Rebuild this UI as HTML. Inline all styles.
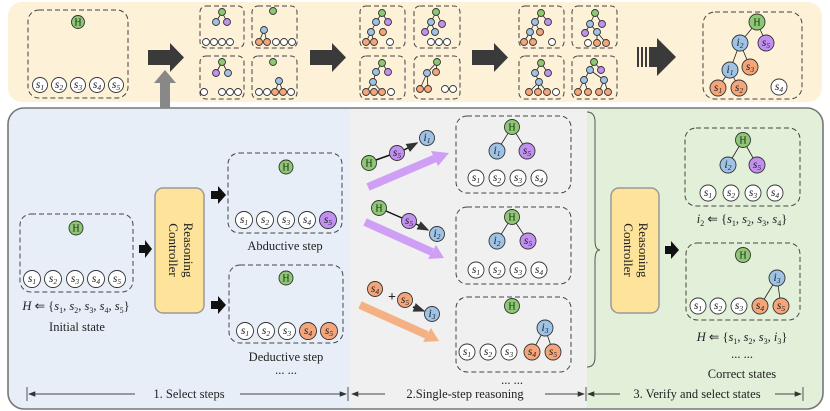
<!DOCTYPE html>
<html><head><meta charset="utf-8"><style>
html,body{margin:0;padding:0;background:#fff}
svg{display:block}
text{font-family:"Liberation Serif",serif;fill:#222}
.n{stroke:#333;stroke-width:0.9}
.g{fill:#8dc972}.b{fill:#9ec3e6}.p{fill:#c190f0}.o{fill:#f4a57a}.w{fill:#fff}
.d{fill:none;stroke:#444;stroke-width:1;stroke-dasharray:5,3}
.l{stroke:#222;stroke-width:0.8}
.t{font-size:11.5px;font-style:italic;text-anchor:middle}
.t tspan{font-size:7.5px}
.h{font-size:10px;text-anchor:middle}
.lab{font-size:12.5px;text-anchor:middle}
</style></head><body>
<svg width="830" height="411" viewBox="0 0 830 411" xmlns="http://www.w3.org/2000/svg">
<defs>
<marker id="ah" markerWidth="8" markerHeight="8" refX="7" refY="4" orient="auto"><path d="M0,1 L8,4 L0,7 Z" fill="#333"/></marker>
</defs>
<rect x="8" y="2" width="814" height="100" rx="14" fill="#fdf1d8"/>
<clipPath id="cp"><rect x="8" y="108" width="815" height="301" rx="16"/></clipPath>
<g clip-path="url(#cp)">
<rect x="8" y="108" width="342" height="301" fill="#e8eef8"/>
<rect x="350" y="108" width="237" height="301" fill="#f0f0f0"/>
<rect x="587" y="108" width="236" height="301" fill="#e2efd9"/>
</g>
<rect x="8" y="108" width="815" height="301" rx="16" fill="none" stroke="#777" stroke-width="1.6"/>

<rect class="d" x="28" y="10" width="100" height="88" rx="11"/>
<circle class="n g" cx="78" cy="22" r="6.5"/><text class="h" x="78" y="25.5" font-size="8">H</text>
<g>
<circle class="n w" cx="40" cy="85" r="7.5"/><text class="t" x="40" y="88">s<tspan dy="2">1</tspan></text>
<circle class="n w" cx="59" cy="85" r="7.5"/><text class="t" x="59" y="88">s<tspan dy="2">2</tspan></text>
<circle class="n w" cx="78" cy="85" r="7.5"/><text class="t" x="78" y="88">s<tspan dy="2">3</tspan></text>
<circle class="n w" cx="97" cy="85" r="7.5"/><text class="t" x="97" y="88">s<tspan dy="2">4</tspan></text>
<circle class="n w" cx="116" cy="85" r="7.5"/><text class="t" x="116" y="88">s<tspan dy="2">5</tspan></text>
</g>
<polygon points="148,50 170,50 170,43 184,57.5 170,72 170,65 148,65" fill="#3a3a3a"/>
<polygon points="160,108 160,83 154,83 165,70 176,83 170,83 170,108" fill="#888"/>
<polygon points="310,50 332,50 332,43 346,57.5 332,72 332,65 310,65" fill="#3a3a3a"/>
<polygon points="472,50 494,50 494,43 508,57.5 494,72 494,65 472,65" fill="#3a3a3a"/>
<rect x="637" y="47" width="2" height="20" fill="#3a3a3a"/><rect x="641" y="47" width="2" height="20" fill="#3a3a3a"/><rect x="645" y="47" width="2" height="20" fill="#3a3a3a"/>
<polygon points="649,47 657,47 657,38 676,57 657,76 657,67 649,67" fill="#3a3a3a"/>

<g>
<rect class="d" x="200" y="6" width="44" height="42" rx="6"/>
<rect class="d" x="252" y="6" width="45" height="42" rx="6"/>
<rect class="d" x="200" y="56" width="44" height="43" rx="6"/>
<rect class="d" x="252" y="56" width="45" height="43" rx="6"/>
<rect class="d" x="360" y="6" width="45" height="42" rx="6"/>
<rect class="d" x="414" y="6" width="46" height="42" rx="6"/>
<rect class="d" x="360" y="56" width="45" height="43" rx="6"/>
<rect class="d" x="414" y="56" width="46" height="43" rx="6"/>
<rect class="d" x="519" y="6" width="45" height="42" rx="6"/>
<rect class="d" x="572" y="6" width="45" height="42" rx="6"/>
<rect class="d" x="519" y="56" width="45" height="43" rx="6"/>
<rect class="d" x="572" y="56" width="45" height="43" rx="6"/>
</g>
<g class="l">
<line x1="222" y1="12" x2="216" y2="22"/><line x1="222" y1="12" x2="227" y2="22"/>
<line x1="264" y1="30" x2="259" y2="42"/><line x1="264" y1="30" x2="267" y2="42"/>
<line x1="222" y1="62" x2="216" y2="73"/><line x1="222" y1="62" x2="228" y2="73"/>
<line x1="279" y1="81" x2="275" y2="92"/><line x1="279" y1="81" x2="283" y2="92"/>
<line x1="382" y1="13" x2="376" y2="22"/><line x1="382" y1="13" x2="388" y2="22"/><line x1="376" y1="22" x2="371" y2="32"/><line x1="371" y1="32" x2="366" y2="42"/><line x1="371" y1="32" x2="374" y2="42"/>
<line x1="382" y1="63" x2="376" y2="72"/><line x1="382" y1="63" x2="388" y2="72"/><line x1="376" y1="72" x2="373" y2="82"/><line x1="373" y1="82" x2="366" y2="92"/><line x1="373" y1="82" x2="382" y2="92"/>
<line x1="436" y1="12" x2="431" y2="22"/><line x1="436" y1="12" x2="442" y2="24"/><line x1="431" y1="22" x2="425" y2="32"/><line x1="431" y1="22" x2="435" y2="32"/>
<line x1="437" y1="62" x2="427" y2="73"/><line x1="437" y1="62" x2="436" y2="72"/><line x1="427" y1="73" x2="420" y2="89"/><line x1="427" y1="73" x2="428" y2="89"/>
<line x1="541" y1="13" x2="535" y2="22"/><line x1="541" y1="13" x2="548" y2="22"/><line x1="535" y1="22" x2="530" y2="32"/><line x1="535" y1="22" x2="540" y2="32"/><line x1="530" y1="32" x2="524" y2="42"/><line x1="530" y1="32" x2="533" y2="42"/>
<line x1="541" y1="63" x2="535" y2="73"/><line x1="541" y1="63" x2="548" y2="73"/><line x1="535" y1="73" x2="539" y2="82"/><line x1="539" y1="82" x2="529" y2="92"/><line x1="539" y1="82" x2="538" y2="92"/><line x1="539" y1="82" x2="547" y2="92"/>
<line x1="595" y1="13" x2="590" y2="24"/><line x1="595" y1="13" x2="602" y2="24"/><line x1="590" y1="24" x2="585" y2="33"/><line x1="590" y1="24" x2="597" y2="32"/><line x1="597" y1="32" x2="597" y2="43"/><line x1="597" y1="32" x2="606" y2="43"/>
<line x1="594" y1="62" x2="590" y2="70"/><line x1="594" y1="62" x2="601" y2="70"/><line x1="590" y1="70" x2="584" y2="80"/><line x1="590" y1="70" x2="604" y2="80"/><line x1="584" y1="80" x2="578" y2="92"/><line x1="584" y1="80" x2="588" y2="92"/><line x1="604" y1="80" x2="599" y2="92"/><line x1="604" y1="80" x2="608" y2="92"/>
</g>
<g class="n">
<circle class="g" cx="222" cy="12" r="3.5"/><circle class="b" cx="216" cy="22" r="3.5"/><circle class="p" cx="227" cy="22" r="3.5"/>
<circle class="w" cx="206" cy="42" r="3.5"/><circle class="w" cx="214" cy="42" r="3.5"/><circle class="w" cx="222" cy="42" r="3.5"/><circle class="w" cx="230" cy="42" r="3.5"/>
<circle class="g" cx="273" cy="11" r="3.5"/><circle class="b" cx="264" cy="30" r="3.5"/><circle class="o" cx="259" cy="42" r="3.5"/><circle class="o" cx="267" cy="42" r="3.5"/><circle class="w" cx="276" cy="42" r="3.5"/><circle class="w" cx="284" cy="42" r="3.5"/><circle class="w" cx="292" cy="42" r="3.5"/>
<circle class="g" cx="222" cy="62" r="3.5"/><circle class="p" cx="216" cy="73" r="3.5"/><circle class="b" cx="228" cy="73" r="3.5"/>
<circle class="w" cx="204" cy="92" r="3.5"/><circle class="w" cx="222" cy="92" r="3.5"/><circle class="w" cx="230" cy="92" r="3.5"/><circle class="w" cx="238" cy="92" r="3.5"/>
<circle class="g" cx="273" cy="62" r="3.5"/><circle class="b" cx="279" cy="81" r="3.5"/><circle class="w" cx="259" cy="92" r="3.5"/><circle class="w" cx="267" cy="92" r="3.5"/><circle class="o" cx="275" cy="92" r="3.5"/><circle class="o" cx="283" cy="92" r="3.5"/><circle class="w" cx="291" cy="92" r="3.5"/>

<circle class="g" cx="382" cy="13" r="3.5"/><circle class="b" cx="376" cy="22" r="3.5"/><circle class="p" cx="388" cy="22" r="3.5"/><circle class="b" cx="371" cy="32" r="3.5"/><circle class="o" cx="366" cy="42" r="3.5"/><circle class="o" cx="374" cy="42" r="3.5"/><circle class="w" cx="390" cy="42" r="3.5"/><circle class="o" cx="383" cy="32" r="3.5"/>
<circle class="g" cx="382" cy="63" r="3.5"/><circle class="b" cx="376" cy="72" r="3.5"/><circle class="p" cx="388" cy="72" r="3.5"/><circle class="b" cx="373" cy="82" r="3.5"/><circle class="o" cx="366" cy="92" r="3.5"/><circle class="o" cx="374" cy="92" r="3.5"/><circle class="o" cx="382" cy="92" r="3.5"/><circle class="w" cx="391" cy="92" r="3.5"/>
<circle class="g" cx="436" cy="12" r="3.5"/><circle class="b" cx="431" cy="22" r="3.5"/><circle class="p" cx="442" cy="24" r="3.5"/><circle class="p" cx="425" cy="32" r="3.5"/><circle class="b" cx="435" cy="32" r="3.5"/><circle class="w" cx="431" cy="42" r="3.5"/><circle class="w" cx="439" cy="42" r="3.5"/><circle class="w" cx="447" cy="42" r="3.5"/>
<circle class="g" cx="437" cy="62" r="3.5"/><circle class="b" cx="427" cy="73" r="3.5"/><circle class="o" cx="436" cy="72" r="3.5"/><circle class="o" cx="420" cy="89" r="3.5"/><circle class="o" cx="428" cy="89" r="3.5"/><circle class="w" cx="445" cy="89" r="3.5"/><circle class="w" cx="453" cy="89" r="3.5"/>

<circle class="g" cx="541" cy="13" r="3.5"/><circle class="b" cx="535" cy="22" r="3.5"/><circle class="p" cx="548" cy="22" r="3.5"/><circle class="b" cx="530" cy="32" r="3.5"/><circle class="o" cx="540" cy="32" r="3.5"/><circle class="o" cx="524" cy="42" r="3.5"/><circle class="o" cx="533" cy="42" r="3.5"/><circle class="w" cx="552" cy="42" r="3.5"/>
<circle class="g" cx="541" cy="63" r="3.5"/><circle class="b" cx="535" cy="73" r="3.5"/><circle class="p" cx="548" cy="73" r="3.5"/><circle class="b" cx="539" cy="82" r="3.5"/><circle class="o" cx="529" cy="92" r="3.5"/><circle class="o" cx="538" cy="92" r="3.5"/><circle class="o" cx="547" cy="92" r="3.5"/><circle class="w" cx="556" cy="92" r="3.5"/>
<circle class="g" cx="595" cy="13" r="3.5"/><circle class="b" cx="590" cy="24" r="3.5"/><circle class="p" cx="602" cy="24" r="3.5"/><circle class="p" cx="585" cy="33" r="3.5"/><circle class="b" cx="597" cy="32" r="3.5"/><circle class="w" cx="588" cy="43" r="3.5"/><circle class="o" cx="597" cy="43" r="3.5"/><circle class="o" cx="606" cy="43" r="3.5"/>
<circle class="g" cx="594" cy="62" r="3.5"/><circle class="b" cx="590" cy="70" r="3.5"/><circle class="p" cx="601" cy="70" r="3.5"/><circle class="b" cx="584" cy="80" r="3.5"/><circle class="b" cx="604" cy="80" r="3.5"/><circle class="o" cx="578" cy="92" r="3.5"/><circle class="o" cx="588" cy="92" r="3.5"/><circle class="o" cx="599" cy="92" r="3.5"/><circle class="o" cx="608" cy="92" r="3.5"/>
</g>

<rect class="d" x="703" y="12" width="99" height="87" rx="12"/>
<g class="l">
<line x1="740" y1="43" x2="757" y2="22"/><line x1="766" y1="43" x2="757" y2="22"/>
<line x1="730" y1="70" x2="740" y2="43"/><line x1="750" y1="67" x2="740" y2="43"/>
<line x1="718" y1="88" x2="730" y2="70"/><line x1="739" y1="88" x2="730" y2="70"/>
</g>
<g class="n">
<circle class="g" cx="757" cy="22" r="8"/><circle class="b" cx="740" cy="43" r="8"/><circle class="p" cx="766" cy="43" r="8"/>
<circle class="b" cx="730" cy="70" r="8"/><circle class="o" cx="750" cy="67" r="8"/>
<circle class="o" cx="718" cy="88" r="8"/><circle class="o" cx="739" cy="88" r="8"/><circle class="w" cx="779" cy="87" r="8"/>
</g>
<text class="h" x="757" y="25.5">H</text>
<text class="t" x="740" y="46">i<tspan dy="2">2</tspan></text>
<text class="t" x="766" y="46">s<tspan dy="2">5</tspan></text>
<text class="t" x="730" y="73">i<tspan dy="2">1</tspan></text>
<text class="t" x="750" y="70">s<tspan dy="2">3</tspan></text>
<text class="t" x="718" y="91">s<tspan dy="2">1</tspan></text>
<text class="t" x="739" y="91">s<tspan dy="2">2</tspan></text>
<text class="t" x="779" y="90">s<tspan dy="2">4</tspan></text>

<rect class="d" x="20" y="214" width="113" height="78" rx="11"/>
<circle class="n g" cx="76" cy="228" r="7"/><text class="h" x="76" y="231.5" font-size="9">H</text>
<g class="n">
<circle class="w" cx="32" cy="279" r="8.5"/><circle class="w" cx="53" cy="279" r="8.5"/><circle class="w" cx="75" cy="279" r="8.5"/><circle class="w" cx="96" cy="279" r="8.5"/><circle class="w" cx="117" cy="279" r="8.5"/>
</g>
<text class="t" x="32" y="282">s<tspan dy="2">1</tspan></text>
<text class="t" x="53" y="282">s<tspan dy="2">2</tspan></text>
<text class="t" x="75" y="282">s<tspan dy="2">3</tspan></text>
<text class="t" x="96" y="282">s<tspan dy="2">4</tspan></text>
<text class="t" x="117" y="282">s<tspan dy="2">5</tspan></text>
<text x="76" y="310" font-size="12.5" text-anchor="middle"><tspan font-style="italic">H</tspan> ⇐ {<tspan font-style="italic">s</tspan><tspan font-size="8" dy="3">1</tspan><tspan dy="-3">, </tspan><tspan font-style="italic">s</tspan><tspan font-size="8" dy="3">2</tspan><tspan dy="-3">, </tspan><tspan font-style="italic">s</tspan><tspan font-size="8" dy="3">3</tspan><tspan dy="-3">, </tspan><tspan font-style="italic">s</tspan><tspan font-size="8" dy="3">4</tspan><tspan dy="-3">, </tspan><tspan font-style="italic">s</tspan><tspan font-size="8" dy="3">5</tspan><tspan dy="-3">}</tspan></text>
<text class="lab" x="77" y="331">Initial state</text>

<polygon points="139,245 145,245 145,240 152,249 145,258 145,253 139,253" fill="#111"/>
<rect x="155" y="188" width="49" height="125" rx="8" fill="#fde49a" stroke="#999" stroke-width="1.5"/>
<text transform="translate(180,250) rotate(90)" font-size="13" text-anchor="middle"><tspan x="0" y="-4">Reasoning</tspan><tspan x="0" y="11">Controller</tspan></text>
<polygon points="211,191 218,191 218,186 226,195 218,204 218,199 211,199" fill="#111"/>
<polygon points="211,301 218,301 218,296 226,305 218,314 218,309 211,309" fill="#111"/>

<rect class="d" x="228" y="153" width="114" height="80" rx="11"/>
<circle class="n g" cx="286" cy="167" r="7"/><text class="h" x="286" y="170.5" font-size="9">H</text>
<g class="n"><circle class="w" cx="244" cy="220" r="8.5"/><circle class="w" cx="265" cy="220" r="8.5"/><circle class="w" cx="286" cy="220" r="8.5"/><circle class="w" cx="307" cy="220" r="8.5"/><circle class="p" cx="328" cy="220" r="8.5"/></g>
<text class="t" x="244" y="223">s<tspan dy="2">1</tspan></text>
<text class="t" x="265" y="223">s<tspan dy="2">2</tspan></text>
<text class="t" x="286" y="223">s<tspan dy="2">3</tspan></text>
<text class="t" x="307" y="223">s<tspan dy="2">4</tspan></text>
<text class="t" x="328" y="223">s<tspan dy="2">5</tspan></text>
<text class="lab" x="285" y="250">Abductive step</text>

<rect class="d" x="229" y="265" width="114" height="78" rx="11"/>
<circle class="n g" cx="286" cy="278" r="7"/><text class="h" x="286" y="281.5" font-size="9">H</text>
<g class="n"><circle class="w" cx="245" cy="331" r="8.5"/><circle class="w" cx="266" cy="331" r="8.5"/><circle class="w" cx="287" cy="331" r="8.5"/><circle class="o" cx="308" cy="331" r="8.5"/><circle class="o" cx="329" cy="331" r="8.5"/></g>
<text class="t" x="245" y="334">s<tspan dy="2">1</tspan></text>
<text class="t" x="266" y="334">s<tspan dy="2">2</tspan></text>
<text class="t" x="287" y="334">s<tspan dy="2">3</tspan></text>
<text class="t" x="308" y="334">s<tspan dy="2">4</tspan></text>
<text class="t" x="329" y="334">s<tspan dy="2">5</tspan></text>
<text class="lab" x="286" y="361">Deductive step</text>
<text class="lab" x="286" y="374" font-size="10">... ...</text>

<g stroke="#444" stroke-width="0.9">
<line x1="27" y1="387" x2="27" y2="401"/><line x1="348" y1="387" x2="348" y2="401"/><line x1="586" y1="387" x2="586" y2="401"/><line x1="803" y1="387" x2="803" y2="401"/>
<line x1="135" y1="394" x2="29" y2="394" marker-end="url(#ah)"/><line x1="240" y1="394" x2="346" y2="394" marker-end="url(#ah)"/>
<line x1="385" y1="394" x2="352" y2="394" marker-end="url(#ah)"/><line x1="545" y1="394" x2="584" y2="394" marker-end="url(#ah)"/>
<line x1="620" y1="394" x2="588" y2="394" marker-end="url(#ah)"/><line x1="775" y1="394" x2="801" y2="394" marker-end="url(#ah)"/>
</g>
<text class="lab" x="189" y="398">1. Select steps</text>
<text class="lab" x="465" y="398">2.Single-step reasoning</text>
<text class="lab" x="697" y="398">3. Verify and select states</text>

<line x1="368" y1="187" x2="436" y2="158" stroke="#cf9ff5" stroke-width="8"/>
<polygon points="449,153 431,151 438,166" fill="#cf9ff5"/>
<line x1="365" y1="222" x2="432" y2="252" stroke="#cf9ff5" stroke-width="8"/>
<polygon points="444,258 428,259 436,245" fill="#cf9ff5"/>
<line x1="360" y1="305" x2="427" y2="335" stroke="#f4b183" stroke-width="8"/>
<polygon points="439,341 423,342 431,328" fill="#f4b183"/>
<g stroke="#111" stroke-width="1.5">
<line x1="376" y1="160" x2="390" y2="155"/><line x1="404" y1="150" x2="417" y2="143" marker-end="url(#ah)"/>
<line x1="386" y1="211" x2="402" y2="218"/><line x1="416" y1="224" x2="428" y2="230" marker-end="url(#ah)"/>
<line x1="413" y1="307" x2="424" y2="311" marker-end="url(#ah)"/>
</g>
<text x="392" y="301" font-size="14" font-weight="bold" text-anchor="middle">+</text>
<g class="n">
<circle class="g" cx="369" cy="163" r="7.5"/><circle class="p" cx="397" cy="153" r="7.5"/><circle class="b" cx="427" cy="138" r="7.5"/>
<circle class="g" cx="379" cy="208" r="7.5"/><circle class="p" cx="409" cy="221" r="7.5"/><circle class="b" cx="437" cy="234" r="7.5"/>
<circle class="o" cx="375" cy="289" r="7.5"/><circle class="o" cx="405" cy="300" r="7.5"/><circle class="b" cx="432" cy="314" r="7.5"/>
</g>
<text class="h" x="369" y="166.5" font-size="9">H</text>
<text class="t" x="397" y="156">s<tspan dy="2">5</tspan></text>
<text class="t" x="427" y="141">i<tspan dy="2">1</tspan></text>
<text class="h" x="379" y="211.5" font-size="9">H</text>
<text class="t" x="409" y="224">s<tspan dy="2">5</tspan></text>
<text class="t" x="437" y="237">i<tspan dy="2">2</tspan></text>
<text class="t" x="375" y="292">s<tspan dy="2">4</tspan></text>
<text class="t" x="405" y="303">s<tspan dy="2">5</tspan></text>
<text class="t" x="432" y="317">i<tspan dy="2">3</tspan></text>

<rect class="d" x="456" y="116" width="115" height="77" rx="11"/>
<g class="l"><line x1="497" y1="151" x2="512" y2="127"/><line x1="527" y1="151" x2="512" y2="127"/></g>
<g class="n"><circle class="g" cx="512" cy="127" r="7.5"/><circle class="b" cx="497" cy="151" r="8"/><circle class="p" cx="527" cy="151" r="8"/>
<circle class="w" cx="476" cy="178" r="8"/><circle class="w" cx="497" cy="178" r="8"/><circle class="w" cx="518" cy="178" r="8"/><circle class="w" cx="539" cy="178" r="8"/></g>
<text class="h" x="512" y="130.5" font-size="9">H</text>
<text class="t" x="497" y="154">i<tspan dy="2">1</tspan></text>
<text class="t" x="527" y="154">s<tspan dy="2">5</tspan></text>
<text class="t" x="476" y="181">s<tspan dy="2">1</tspan></text>
<text class="t" x="497" y="181">s<tspan dy="2">2</tspan></text>
<text class="t" x="518" y="181">s<tspan dy="2">3</tspan></text>
<text class="t" x="539" y="181">s<tspan dy="2">4</tspan></text>

<rect class="d" x="456" y="207" width="115" height="77" rx="11"/>
<g class="l"><line x1="497" y1="241" x2="512" y2="217"/><line x1="528" y1="241" x2="512" y2="217"/></g>
<g class="n"><circle class="g" cx="512" cy="217" r="7.5"/><circle class="b" cx="497" cy="241" r="8"/><circle class="p" cx="528" cy="241" r="8"/>
<circle class="w" cx="476" cy="270" r="8"/><circle class="w" cx="497" cy="270" r="8"/><circle class="w" cx="518" cy="270" r="8"/><circle class="w" cx="539" cy="270" r="8"/></g>
<text class="h" x="512" y="220.5" font-size="9">H</text>
<text class="t" x="497" y="244">i<tspan dy="2">2</tspan></text>
<text class="t" x="528" y="244">s<tspan dy="2">5</tspan></text>
<text class="t" x="476" y="273">s<tspan dy="2">1</tspan></text>
<text class="t" x="497" y="273">s<tspan dy="2">2</tspan></text>
<text class="t" x="518" y="273">s<tspan dy="2">3</tspan></text>
<text class="t" x="539" y="273">s<tspan dy="2">4</tspan></text>

<rect class="d" x="456" y="297" width="115" height="75" rx="11"/>
<g class="l"><line x1="532" y1="352" x2="545" y2="328"/><line x1="553" y1="352" x2="545" y2="328"/></g>
<g class="n"><circle class="g" cx="512" cy="306" r="7.5"/><circle class="b" cx="545" cy="328" r="8"/>
<circle class="w" cx="467" cy="352" r="8"/><circle class="w" cx="488" cy="352" r="8"/><circle class="w" cx="509" cy="352" r="8"/><circle class="o" cx="532" cy="352" r="8"/><circle class="o" cx="553" cy="352" r="8"/></g>
<text class="h" x="512" y="309.5" font-size="9">H</text>
<text class="t" x="545" y="331">i<tspan dy="2">3</tspan></text>
<text class="t" x="467" y="355">s<tspan dy="2">1</tspan></text>
<text class="t" x="488" y="355">s<tspan dy="2">2</tspan></text>
<text class="t" x="509" y="355">s<tspan dy="2">3</tspan></text>
<text class="t" x="532" y="355">s<tspan dy="2">4</tspan></text>
<text class="t" x="553" y="355">s<tspan dy="2">5</tspan></text>
<text class="lab" x="512" y="384" font-size="10">... ...</text>

<path d="M587,112 Q595,112 595,122 L595,240 Q595,250 600,250 Q595,250 595,260 L595,357 Q595,367 587,367" fill="none" stroke="#555" stroke-width="1"/>
<rect x="611" y="188" width="48" height="125" rx="8" fill="#fde49a" stroke="#999" stroke-width="1.5"/>
<text transform="translate(635,250) rotate(90)" font-size="13" text-anchor="middle"><tspan x="0" y="-4">Reasoning</tspan><tspan x="0" y="11">Controller</tspan></text>
<polygon points="665,246 671,246 671,241 679,250 671,259 671,254 665,254" fill="#111"/>

<rect class="d" x="685" y="128" width="115" height="78" rx="11"/>
<g class="l"><line x1="728" y1="165" x2="743" y2="140"/><line x1="757" y1="165" x2="743" y2="140"/></g>
<g class="n"><circle class="g" cx="743" cy="140" r="7.5"/><circle class="b" cx="728" cy="165" r="8"/><circle class="p" cx="757" cy="165" r="8"/>
<circle class="w" cx="708" cy="193" r="8"/><circle class="w" cx="731" cy="193" r="8"/><circle class="w" cx="753" cy="193" r="8"/><circle class="w" cx="775" cy="193" r="8"/></g>
<text class="h" x="743" y="143.5" font-size="9">H</text>
<text class="t" x="728" y="168">i<tspan dy="2">2</tspan></text>
<text class="t" x="757" y="168">s<tspan dy="2">5</tspan></text>
<text class="t" x="708" y="196">s<tspan dy="2">1</tspan></text>
<text class="t" x="731" y="196">s<tspan dy="2">2</tspan></text>
<text class="t" x="753" y="196">s<tspan dy="2">3</tspan></text>
<text class="t" x="775" y="196">s<tspan dy="2">4</tspan></text>
<text x="742" y="223" font-size="12.5" text-anchor="middle"><tspan font-style="italic">i</tspan><tspan font-size="8" dy="3">2</tspan><tspan dy="-3"> ⇐ {</tspan><tspan font-style="italic">s</tspan><tspan font-size="8" dy="3">1</tspan><tspan dy="-3">, </tspan><tspan font-style="italic">s</tspan><tspan font-size="8" dy="3">2</tspan><tspan dy="-3">, </tspan><tspan font-style="italic">s</tspan><tspan font-size="8" dy="3">3</tspan><tspan dy="-3">, </tspan><tspan font-style="italic">s</tspan><tspan font-size="8" dy="3">4</tspan><tspan dy="-3">}</tspan></text>

<rect class="d" x="686" y="243" width="114" height="77" rx="11"/>
<g class="l"><line x1="760" y1="306" x2="777" y2="278"/><line x1="781" y1="306" x2="777" y2="278"/></g>
<g class="n"><circle class="g" cx="743" cy="255" r="7.5"/><circle class="b" cx="777" cy="278" r="8"/>
<circle class="w" cx="698" cy="306" r="8"/><circle class="w" cx="718" cy="306" r="8"/><circle class="w" cx="739" cy="306" r="8"/><circle class="o" cx="760" cy="306" r="8"/><circle class="o" cx="781" cy="306" r="8"/></g>
<text class="h" x="743" y="258.5" font-size="9">H</text>
<text class="t" x="777" y="281">i<tspan dy="2">3</tspan></text>
<text class="t" x="698" y="309">s<tspan dy="2">1</tspan></text>
<text class="t" x="718" y="309">s<tspan dy="2">2</tspan></text>
<text class="t" x="739" y="309">s<tspan dy="2">3</tspan></text>
<text class="t" x="760" y="309">s<tspan dy="2">4</tspan></text>
<text class="t" x="781" y="309">s<tspan dy="2">5</tspan></text>
<text x="742" y="341" font-size="12.5" text-anchor="middle"><tspan font-style="italic">H</tspan> ⇐ {<tspan font-style="italic">s</tspan><tspan font-size="8" dy="3">1</tspan><tspan dy="-3">, </tspan><tspan font-style="italic">s</tspan><tspan font-size="8" dy="3">2</tspan><tspan dy="-3">, </tspan><tspan font-style="italic">s</tspan><tspan font-size="8" dy="3">3</tspan><tspan dy="-3">, </tspan><tspan font-style="italic">i</tspan><tspan font-size="8" dy="3">3</tspan><tspan dy="-3">}</tspan></text>
<text class="lab" x="742" y="358" font-size="10">... ...</text>
<text class="lab" x="742" y="378">Correct states</text>
</svg>
</body></html>
